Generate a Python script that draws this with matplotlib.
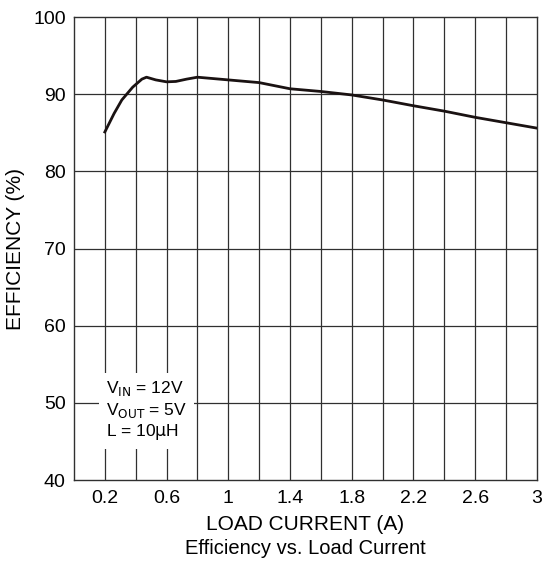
import numpy as np
import matplotlib
matplotlib.use("Agg")
import matplotlib.pyplot as plt

# curve
load_current = [0.20, 0.26, 0.31, 0.38, 0.44, 0.47, 0.53, 0.60, 0.66, 0.73, 0.80,
                1.0, 1.2, 1.4, 1.6, 1.8, 2.0, 2.2, 2.4, 2.6, 2.8, 3.0]
efficiency = [85.1, 87.5, 89.25, 90.9, 91.95, 92.2, 91.85, 91.6, 91.65, 91.95, 92.2,
              91.85, 91.5, 90.7, 90.35, 89.9, 89.25, 88.5, 87.8, 87.0, 86.3, 85.6]

x_ticks = [0.2, 0.6, 1.0, 1.4, 1.8, 2.2, 2.6, 3.0]
x_tick_labels = ["0.2", "0.6", "1", "1.4", "1.8", "2.2", "2.6", "3"]
y_ticks = [40, 50, 60, 70, 80, 90, 100]

plt.rcParams["font.family"] = ["Liberation Sans", "DejaVu Sans"]

fig = plt.figure(figsize=(5.44, 5.67), dpi=100)
ax = fig.add_axes([0.136, 0.1534, 0.851, 0.8166])

# grid every 0.2 A and 10 %
for gx in np.arange(0.2, 3.0, 0.2):
    ax.axvline(gx, color="#303030", lw=0.9, zorder=1)
for gy in y_ticks[1:-1]:
    ax.axhline(gy, color="#303030", lw=0.9, zorder=1)

ax.plot(load_current, efficiency, color="#1a1212", lw=2.0, zorder=3)

ax.set_xlim(0, 3.0)
ax.set_ylim(40, 100)
ax.set_xticks(x_ticks)
ax.set_xticklabels(x_tick_labels)
ax.set_yticks(y_ticks)
ax.tick_params(axis="x", length=0, labelsize=14, pad=7)
ax.tick_params(axis="y", length=0, labelsize=14, pad=6)
for s in ax.spines.values():
    s.set_color("#303030")
    s.set_linewidth(1.0)

ax.set_xlabel("LOAD CURRENT (A)", fontsize=15, labelpad=6)
ax.set_ylabel("EFFICIENCY (%)", fontsize=15, labelpad=6)
fig.text(0.561, 1 - 548 / 567, "Efficiency vs. Load Current", fontsize=14.5,
         ha="center", va="center")

ax.text(0.21, 49.0, "V$_{\\mathrm{IN}}$ = 12V\nV$_{\\mathrm{OUT}}$ = 5V\nL = 10$\\mathrm{\\mu}$H",
        fontsize=12.5, va="center", ha="left", linespacing=1.2, zorder=4,
        bbox=dict(facecolor="white", edgecolor="none", pad=5))

fig.savefig("out.png", dpi=100)
